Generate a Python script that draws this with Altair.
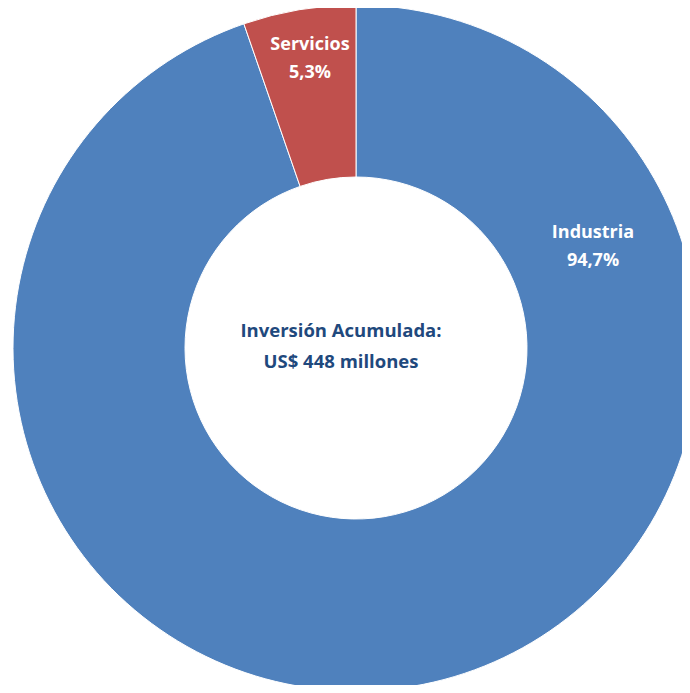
import altair as alt
import pandas as pd

categories = ["Industria", "Servicios"]
values = [94.7, 5.3]
labels = ["94,7%", "5,3%"]
colors = ["#4F81BD", "#C0504D"]
center_lines = ["Inversión Acumulada:", "US$ 448 millones"]

df = pd.DataFrame({"cat": categories, "val": values, "lab": labels,
                   "order": [0, 1]})

CX, CY = 348, 340
FONT = "Open Sans"

arcs = alt.Chart(df).mark_arc(innerRadius=171, outerRadius=343,
                              stroke="white", strokeWidth=1).encode(
    theta=alt.Theta("val:Q", stack=True),
    order=alt.Order("order:Q"),
    color=alt.Color("cat:N", scale=alt.Scale(domain=categories, range=colors),
                    legend=None),
    x=alt.value(CX), y=alt.value(CY),
)

ind = alt.Chart(df[df.cat == "Industria"]).mark_text(
    font=FONT, fontWeight="bold", fontSize=18, color="white",
    lineHeight=28, baseline="middle", align="center").transform_calculate(
    t="[datum.cat, datum.lab]").encode(
    text="t:N", x=alt.value(585), y=alt.value(225))

ser = alt.Chart(df[df.cat == "Servicios"]).mark_text(
    font=FONT, fontWeight="bold", fontSize=18, color="white",
    lineHeight=28, baseline="middle", align="center").transform_calculate(
    t="[datum.cat, datum.lab]").encode(
    text="t:N", x=alt.value(302), y=alt.value(37))

cdf = pd.DataFrame({"t": [center_lines]})
center = alt.Chart(cdf).mark_text(
    font=FONT, fontWeight="bold", fontSize=18.5, color="#1F497D",
    lineHeight=31, baseline="middle", align="center").encode(
    text="t:N", x=alt.value(333), y=alt.value(323))

chart = alt.layer(arcs, ind, ser, center).properties(
    width=674, height=677, autosize=alt.AutoSizeParams(type="none"),
    padding=0).configure_view(stroke=None)

chart.save("out.html", embed_options={"renderer": "svg", "actions": False})
